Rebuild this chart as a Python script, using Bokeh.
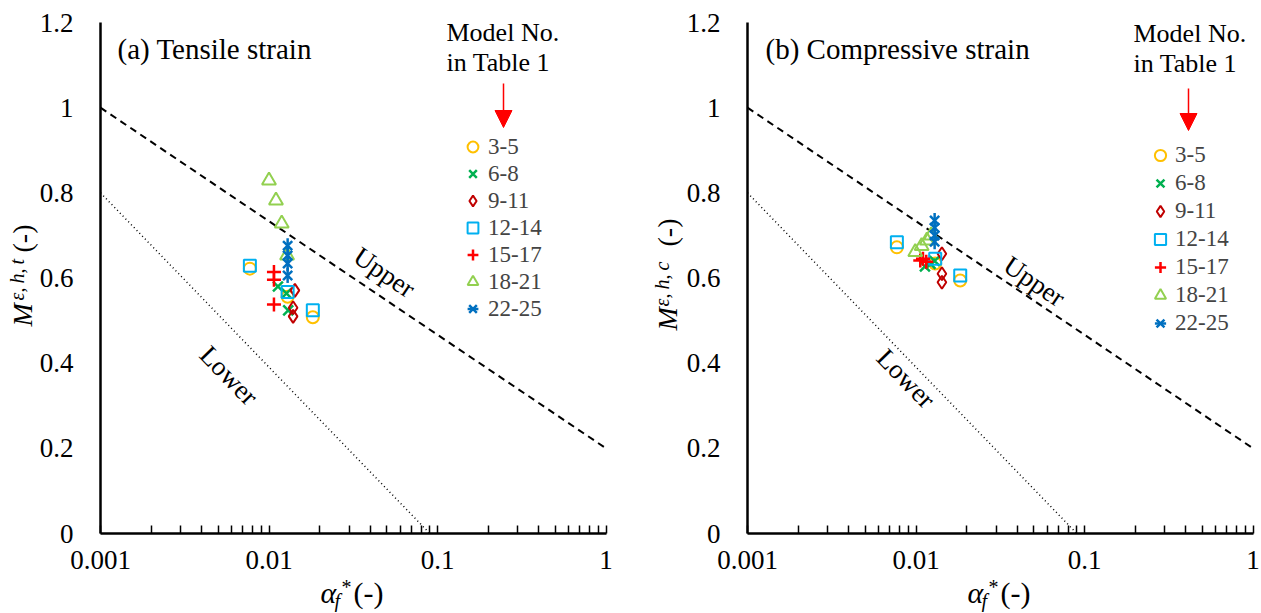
import math
from bokeh.plotting import figure
from bokeh.layouts import row
from bokeh.models import (FixedTicker, Label, Legend, LegendItem, Arrow, NormalHead, Range1d)
from bokeh.embed import file_html
from bokeh.resources import INLINE

FONT = "Liberation Serif"
QFONT = "'Liberation Serif'"

# ---------------- data ----------------
x_major = [0.001, 0.01, 0.1, 1]
x_labels = ["0.001", "0.01", "0.1", "1"]
y_major = [0, 0.2, 0.4, 0.6, 0.8, 1.0, 1.2]
y_labels = ["0", "0.2", "0.4", "0.6", "0.8", "1", "1.2"]
series_names = ["3-5", "6-8", "9-11", "12-14", "15-17", "18-21", "22-25"]

upper_x = [0.001, 1.0]
upper_y = [1.0, 0.2]
lower_x = [0.001, 0.09]
lower_y = [0.8, 0.0]

# (a) tensile strain
a_s35_x = [0.0077, 0.0129, 0.0182]
a_s35_y = [0.622, 0.556, 0.508]
a_s68_x = [0.0113, 0.0127, 0.0130]
a_s68_y = [0.580, 0.564, 0.524]
a_s911_x = [0.01425, 0.0139, 0.0139]
a_s911_y = [0.571, 0.530, 0.510]
a_s1214_x = [0.0077, 0.0129, 0.0182]
a_s1214_y = [0.629, 0.567, 0.524]
a_s1517_x = [0.0107, 0.0107, 0.0107]
a_s1517_y = [0.614, 0.596, 0.538]
a_s1821_x = [0.0100, 0.0110, 0.0119, 0.0128]
a_s1821_y = [0.829, 0.782, 0.728, 0.653]
a_s2225_x = [0.0129, 0.0129, 0.0129, 0.0129]
a_s2225_y = [0.676, 0.653, 0.634, 0.606]

# (b) compressive strain
b_s35_x = [0.0077, 0.0130, 0.0183]
b_s35_y = [0.672, 0.634, 0.594]
b_s68_x = [0.0113, 0.0122, 0.0129]
b_s68_y = [0.627, 0.633, 0.640]
b_s911_x = [0.01425, 0.01425, 0.01425]
b_s911_y = [0.657, 0.610, 0.590]
b_s1214_x = [0.0077, 0.0130, 0.0183]
b_s1214_y = [0.684, 0.645, 0.606]
b_s1517_x = [0.0106, 0.0110, 0.0115]
b_s1517_y = [0.641, 0.645, 0.638]
b_s1821_x = [0.0099, 0.0108, 0.0116, 0.0123]
b_s1821_y = [0.661, 0.675, 0.688, 0.700]
b_s2225_x = [0.0129, 0.0129, 0.0129, 0.0129]
b_s2225_y = [0.735, 0.718, 0.700, 0.685]

colors = ["#FFC000", "#00B050", "#C00000", "#00B0F0", "#FF0000", "#92D050", "#0070C0"]
markers = ["circle", "x", "diamond", "square", "cross", "triangle", "asterisk"]
sizes = [12, 14, 13, 12, 14, 14, 13]

H = 612
DEC = 168.5              # px per decade
YPX = 511 / 1.2          # px per unit of M
Y_ZERO_FROM_BOTTOM = H - 533
Y_TOP_PX = 22


def make_panel(series, title, ylab_sup, cfg):
    W = cfg["width"]
    x0 = cfg["axis_px"]
    xr = Range1d(10 ** (-3 - x0 / DEC), 10 ** ((W - (x0 + 3 * DEC)) / DEC))
    yr = Range1d(-Y_ZERO_FROM_BOTTOM / YPX, 1.2 + Y_TOP_PX / YPX)
    p = figure(width=W, height=H, x_axis_type="log", x_range=xr, y_range=yr,
               output_backend="svg", toolbar_location=None, min_border=0,
               min_border_left=0, min_border_right=0, min_border_top=0, min_border_bottom=0)
    p.outline_line_color = None
    p.xgrid.visible = False
    p.ygrid.visible = False
    p.background_fill_color = "white"
    p.border_fill_color = "white"

    minor = [k * 10.0 ** e for e in (-3, -2, -1) for k in range(2, 10)]
    p.xaxis.ticker = FixedTicker(ticks=x_major, minor_ticks=minor)
    p.xaxis.major_label_overrides = dict(zip(x_major, x_labels))
    p.yaxis.ticker = FixedTicker(ticks=y_major)
    p.yaxis.major_label_overrides = dict(zip(y_major, y_labels))
    p.xaxis.fixed_location = 0
    p.yaxis.fixed_location = 0.001
    p.xaxis.bounds = (0.001, 1)
    p.yaxis.bounds = (0, 1.2)
    for ax in (p.xaxis[0], p.yaxis[0]):
        ax.axis_line_width = 2.5
        ax.axis_line_color = "black"
        ax.major_label_text_font = QFONT
        ax.major_label_text_font_size = "27px"
        ax.major_label_text_color = "black"
        ax.major_tick_out = 0
        ax.minor_tick_out = 0
    p.xaxis.major_tick_in = 8
    p.xaxis.minor_tick_in = 8
    p.xaxis.major_tick_line_width = 1.5
    p.xaxis.minor_tick_line_width = 1.5
    p.xaxis.major_label_standoff = 17
    p.yaxis.major_tick_in = 0
    p.yaxis.minor_tick_in = 0
    p.yaxis.major_label_standoff = 27

    p.line(upper_x, upper_y, line_color="black", line_width=2, line_dash="7 5")
    p.line(lower_x, lower_y, line_color="black", line_width=1.5, line_dash="1 3")

    items = []
    for (xs, ys), col, mk, sz, name in zip(series, colors, markers, sizes, series_names):
        if mk == "asterisk":
            r1 = p.scatter(xs, ys, marker="x", size=sz, line_color=col, line_width=2.5,
                           fill_color=None)
            r2 = p.scatter(xs, ys, marker="dash", size=sz + 2, angle=math.pi / 2,
                           line_color=col, line_width=2.5, fill_color=None)
            rs = [r1, r2]
        else:
            r = p.scatter(xs, ys, marker=mk, size=sz, line_color=col,
                          line_width=2.5 if mk in ("x", "cross") else 2, fill_color=None)
            rs = [r]
        items.append(LegendItem(label=name, renderers=rs))

    rh = cfg["row_h"]
    leg = Legend(items=items, location=cfg["leg_loc"], padding=0, margin=0,
                 spacing=0, glyph_width=rh, glyph_height=rh,
                 label_height=rh, label_standoff=cfg["leg_sto"],
                 label_text_font=QFONT, label_text_font_size="23px",
                 label_text_baseline="middle",
                 border_line_color=None, background_fill_alpha=0)
    p.add_layout(leg)

    def lab(x, y, text, size, style="normal", angle=0.0, align="left", baseline="alphabetic", units="screen"):
        p.add_layout(Label(x=x, y=y, x_units=units, y_units=units, text=text, angle=angle,
                           text_font=FONT, text_font_size=size, text_font_style=style,
                           text_align=align, text_baseline=baseline, text_color="black"))

    # title
    lab(cfg["title"][0], cfg["title"][1], title, "29px")
    # legend header and arrow
    lab(cfg["hdr"][0], cfg["hdr"][1], "Model No.", "26px")
    lab(cfg["hdr"][0], cfg["hdr"][2], "in Table 1", "26px")
    p.add_layout(Arrow(end=NormalHead(size=17, fill_color="#FF0000", line_color="#FF0000"),
                       x_start=cfg["arr"][0], y_start=cfg["arr"][1], x_end=cfg["arr"][0], y_end=cfg["arr"][2],
                       start_units="screen", end_units="screen",
                       line_color="#FF0000", line_width=1.5))
    # line labels (data units)
    lab(cfg["up"][0], cfg["up"][1], "Upper", "27px", angle=-0.6, align="center",
        baseline="middle", units="data")
    lab(cfg["lo"][0], cfg["lo"][1], "Lower", "27px", angle=-0.8, align="center",
        baseline="middle", units="data")
    # x axis label
    ax_x = cfg["xlab"]
    lab(ax_x, 20, "α", "30px", "italic")
    lab(ax_x + 14, 12, "f", "20px", "italic")
    lab(ax_x + 21, 26, "*", "20px")
    lab(ax_x + 33, 20, "(-)", "30px")
    # y axis label
    yl = cfg["ylab"]
    lab(yl[0], yl[1], "M", "28px", "italic", angle=math.pi / 2)
    lab(yl[2], yl[3], ylab_sup, "20px", "italic", angle=math.pi / 2)
    lab(yl[0], yl[4], "(-)", "28px", angle=math.pi / 2)
    return p


series_a = [(a_s35_x, a_s35_y), (a_s68_x, a_s68_y), (a_s911_x, a_s911_y),
            (a_s1214_x, a_s1214_y), (a_s1517_x, a_s1517_y), (a_s1821_x, a_s1821_y),
            (a_s2225_x, a_s2225_y)]
series_b = [(b_s35_x, b_s35_y), (b_s68_x, b_s68_y), (b_s911_x, b_s911_y),
            (b_s1214_x, b_s1214_y), (b_s1517_x, b_s1517_y), (b_s1821_x, b_s1821_y),
            (b_s2225_x, b_s2225_y)]

cfg_a = dict(width=636, axis_px=100, leg_loc=(459, 290), row_h=27, leg_sto=2,
             title=(117, 564), hdr=(446, 580, 550), arr=(503, 529, 485),
             up=(0.0484, 0.613), lo=(0.00578, 0.371), xlab=320,
             ylab=(22, 286, 16, 312, 360))
cfg_b = dict(width=624, axis_px=111, leg_loc=(510, 275), row_h=28, leg_sto=1,
             title=(129, 564), hdr=(497, 579, 549), arr=(552, 524, 482),
             up=(0.0504, 0.592), lo=(0.00872, 0.364), xlab=331,
             ylab=(31, 282, 25, 306, 366))

pa = make_panel(series_a, "(a) Tensile strain", "ε,\u2009h,\u2009t", cfg_a)
pb = make_panel(series_b, "(b) Compressive strain", "ε,\u2009h,\u2009c", cfg_b)

layout = row(pa, pb, spacing=0)
open("out.html", "w").write(file_html(layout, INLINE))
